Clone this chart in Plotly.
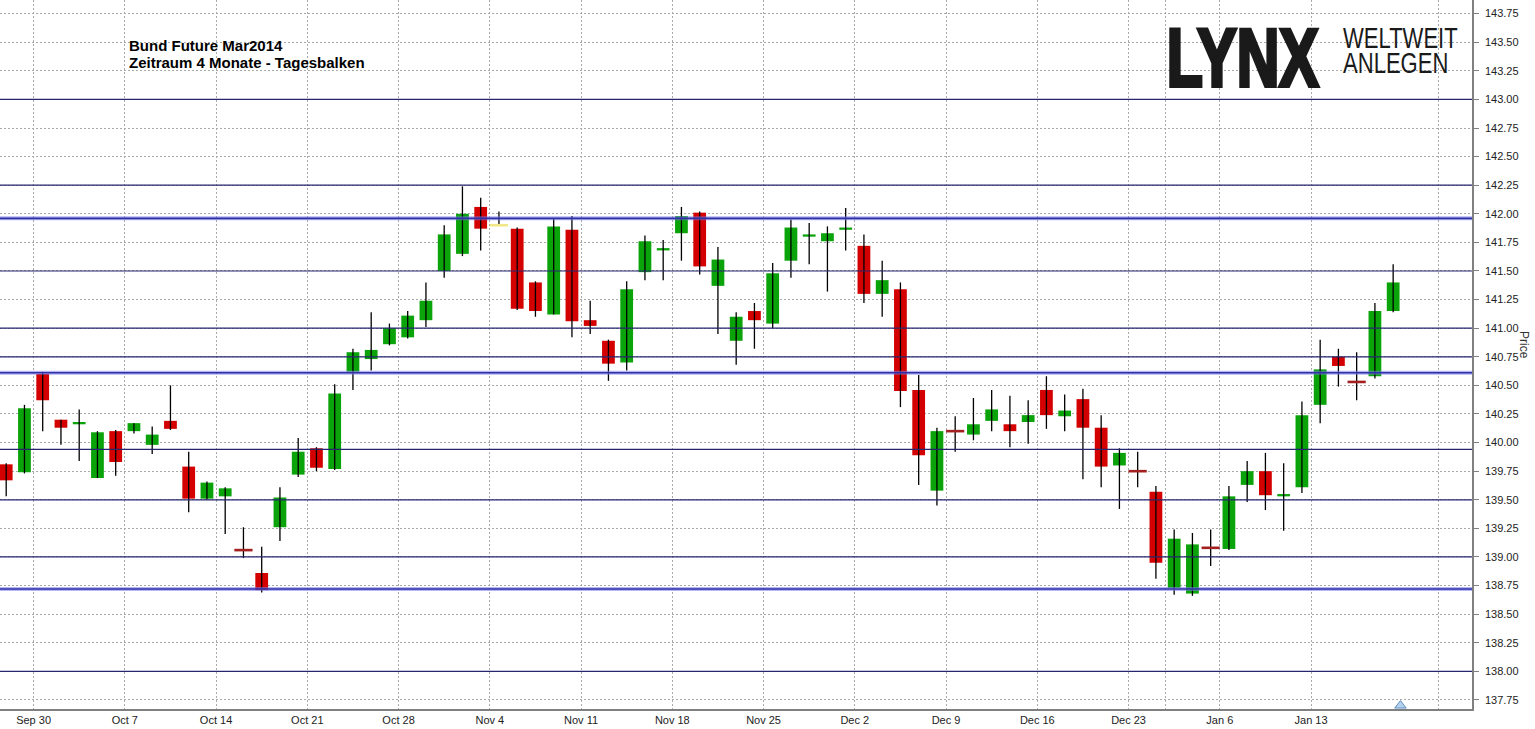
import plotly.graph_objects as go
import datetime as dt

# ---------------- data ----------------
dates = [
    "2013-09-26", "2013-09-27", "2013-09-30",
    "2013-10-01", "2013-10-02", "2013-10-03", "2013-10-04",
    "2013-10-07", "2013-10-08", "2013-10-09", "2013-10-10", "2013-10-11",
    "2013-10-14", "2013-10-15", "2013-10-16", "2013-10-17", "2013-10-18",
    "2013-10-21", "2013-10-22", "2013-10-23", "2013-10-24", "2013-10-25",
    "2013-10-28", "2013-10-29", "2013-10-30", "2013-10-31", "2013-11-01",
    "2013-11-04", "2013-11-05", "2013-11-06", "2013-11-07", "2013-11-08",
    "2013-11-11", "2013-11-12", "2013-11-13", "2013-11-14", "2013-11-15",
    "2013-11-18", "2013-11-19", "2013-11-20", "2013-11-21", "2013-11-22",
    "2013-11-25", "2013-11-26", "2013-11-27", "2013-11-28", "2013-11-29",
    "2013-12-02", "2013-12-03", "2013-12-04", "2013-12-05", "2013-12-06",
    "2013-12-09", "2013-12-10", "2013-12-11", "2013-12-12", "2013-12-13",
    "2013-12-16", "2013-12-17", "2013-12-18", "2013-12-19", "2013-12-20",
    "2013-12-23", "2013-12-27", "2013-12-30", "2014-01-02", "2014-01-03",
    "2014-01-06", "2014-01-07", "2014-01-08", "2014-01-09", "2014-01-10",
    "2014-01-13", "2014-01-14", "2014-01-15", "2014-01-16", "2014-01-17",
]

opens = [
    139.81, 139.74, 140.60, 140.20, 140.16, 139.69, 140.10, 140.10, 139.98, 140.19,
    139.79, 139.51, 139.53, 139.06, 138.86, 139.26, 139.72, 139.95, 139.77, 140.62,
    140.73, 140.86, 140.92, 141.07, 141.50, 141.65, 142.06, 141.90, 141.87, 141.40,
    141.12, 141.86, 141.07, 140.89, 140.70, 141.49, 141.68, 141.83, 142.01, 141.37,
    140.89, 141.15, 141.04, 141.59, 141.80, 141.76, 141.86, 141.72, 141.30, 141.34,
    140.46, 139.58, 140.10, 140.07, 140.19, 140.16, 140.18, 140.46, 140.23, 140.38,
    140.13, 139.80, 139.75, 139.57, 138.73, 138.68, 139.08, 139.07, 139.63, 139.75,
    139.53, 139.61, 140.33, 140.75, 140.53, 140.58, 141.15,
]
highs = [
    139.82, 140.33, 140.62, 140.20, 140.29, 140.10, 140.11, 140.17, 140.14, 140.50,
    139.92, 139.66, 139.61, 139.26, 139.09, 139.61, 140.04, 139.96, 140.51, 140.82,
    141.14, 141.04, 141.15, 141.40, 141.90, 142.24, 142.14, 142.02, 141.88, 141.41,
    141.96, 141.98, 141.24, 140.90, 141.41, 141.81, 141.77, 142.06, 142.02, 141.71,
    141.14, 141.22, 141.57, 141.95, 141.92, 141.89, 142.05, 141.82, 141.59, 141.40,
    140.59, 140.13, 140.23, 140.39, 140.46, 140.41, 140.37, 140.58, 140.42, 140.47,
    140.24, 139.95, 139.92, 139.62, 139.24, 139.21, 139.24, 139.62, 139.84, 139.91,
    139.82, 140.36, 140.90, 140.82, 140.79, 141.22, 141.56,
]
lows = [
    139.53, 139.73, 140.10, 139.98, 139.84, 139.69, 139.71, 140.08, 139.90, 140.11,
    139.39, 139.50, 139.20, 138.99, 138.69, 139.14, 139.70, 139.75, 139.76, 140.46,
    140.63, 140.85, 140.91, 141.01, 141.44, 141.63, 141.68, 141.90, 141.16, 141.10,
    141.12, 140.92, 140.95, 140.54, 140.63, 141.42, 141.42, 141.59, 141.47, 140.95,
    140.68, 140.82, 141.00, 141.44, 141.56, 141.32, 141.68, 141.22, 141.10, 140.31,
    139.63, 139.45, 139.92, 140.02, 140.10, 139.96, 139.99, 140.12, 140.10, 139.68,
    139.61, 139.42, 139.61, 138.81, 138.67, 138.66, 138.92, 139.06, 139.48, 139.41,
    139.23, 139.56, 140.17, 140.49, 140.37, 140.56, 141.14,
]
closes = [
    139.67, 140.30, 140.37, 140.13, 140.18, 140.09, 139.83, 140.17, 140.07, 140.12,
    139.51, 139.65, 139.60, 139.06, 138.71, 139.52, 139.92, 139.78, 140.43, 140.79,
    140.81, 141.00, 141.11, 141.24, 141.82, 142.00, 141.87, 141.90, 141.17, 141.15,
    141.89, 141.06, 141.02, 140.69, 141.34, 141.76, 141.70, 141.98, 141.54, 141.60,
    141.10, 141.07, 141.48, 141.88, 141.82, 141.83, 141.88, 141.30, 141.42, 140.45,
    139.89, 140.10, 140.10, 140.16, 140.29, 140.10, 140.24, 140.24, 140.28, 140.13,
    139.79, 139.91, 139.75, 138.95, 139.16, 139.11, 139.08, 139.53, 139.75, 139.54,
    139.55, 140.24, 140.64, 140.67, 140.53, 141.15, 141.40,
]

# horizontal support / resistance levels
levels = [143.00, 142.25, 141.50, 141.00, 140.75, 139.94, 139.50, 139.00, 138.00]
strong_levels = [141.96, 140.61, 138.72]

title_lines = ["Bund Future Mar2014", "Zeitraum 4 Monate - Tagesbalken"]
logo_word = "LYNX"
logo_claim = ["WELTWEIT", "ANLEGEN"]
axis_title = "Price"
next_monday = "2014-01-20"
hidden_tick_labels = ["2013-12-30", "2014-01-20"]

# ---------------- styles ----------------
GREEN = "#0aa30a"
RED = "#d40000"
DOJI_RED = "#a32020"
DOJI_YELLOW = "#f2e88a"
special_doji = {27: DOJI_YELLOW}
GRID = "#a9a9a9"
AXIS = "#808080"
THIN_LINE = "#26266e"
STRONG_CORE = "#3030a8"
STRONG_HALO = "rgba(120,120,230,0.55)"

W, H = 1535, 729
ML, MR, MT, MB = 0, 63, 0, 20
PW, PH = W - ML - MR, H - MT - MB
Y_RANGE = [137.671, 143.869]
X_RANGE = [-0.34, 80.32]

# ---------------- derived ----------------
xs = list(range(len(dates)))
parsed = [dt.date.fromisoformat(d) for d in dates]

bar_x, bar_base, bar_h, bar_c = [], [], [], []
doji_x, doji_y, doji_c = [], [], []
for i, (o, c) in enumerate(zip(opens, closes)):
    if c == o:
        doji_x.append(i)
        doji_y.append(o)
        doji_c.append(special_doji.get(i, DOJI_RED))
    else:
        bar_x.append(i)
        bar_base.append(min(o, c))
        bar_h.append(abs(c - o))
        bar_c.append(GREEN if c > o else RED)

wick_x, wick_y = [], []
for i, (hi, lo) in enumerate(zip(highs, lows)):
    wick_x += [i, i, None]
    wick_y += [lo, hi, None]

tickvals, ticktext = [], []
for i, d in enumerate(parsed):
    if d.weekday() == 0:
        tickvals.append(i - 0.5)
        ticktext.append("" if dates[i] in hidden_tick_labels else d.strftime("%b ") + str(d.day))
nm = dt.date.fromisoformat(next_monday)
tickvals.append(xs[-1] + (nm - parsed[-1]).days - 0.5)
ticktext.append("" if next_monday in hidden_tick_labels else nm.strftime("%b ") + str(nm.day))

fig = go.Figure()
fig.add_trace(go.Scatter(x=wick_x, y=wick_y, mode="lines",
                         line=dict(color="#000000", width=1.3),
                         hoverinfo="skip", showlegend=False))
fig.add_trace(go.Bar(x=bar_x, y=bar_h, base=bar_base, width=0.7,
                     marker=dict(color=bar_c, line=dict(width=0)),
                     showlegend=False))
fig.add_trace(go.Scatter(x=doji_x, y=doji_y, mode="markers",
                         marker=dict(symbol="line-ew", size=13,
                                     line=dict(width=2.6, color=doji_c)),
                         showlegend=False))
# "today" marker at the bottom
fig.add_trace(go.Scatter(x=[xs[-1] + 0.4], y=[Y_RANGE[0] + 0.03], mode="markers",
                         marker=dict(symbol="triangle-up", size=10, color="#b4d0ec",
                                     line=dict(width=1, color="#5f8fc0")),
                         cliponaxis=False, showlegend=False))

shapes = []
for lv in levels:
    shapes.append(dict(type="line", xref="paper", x0=0, x1=1, yref="y", y0=lv, y1=lv,
                       line=dict(color=THIN_LINE, width=1.2), layer="above"))
for lv in strong_levels:
    shapes.append(dict(type="line", xref="paper", x0=0, x1=1, yref="y", y0=lv, y1=lv,
                       line=dict(color=STRONG_HALO, width=4), layer="above"))
    shapes.append(dict(type="line", xref="paper", x0=0, x1=1, yref="y", y0=lv, y1=lv,
                       line=dict(color=STRONG_CORE, width=1.6), layer="above"))

def px_x(p):
    return (p - ML) / PW

def px_y(p):
    return 1 - (p - MT) / PH

LOGO_FONT = "Liberation Sans, Arial"
annotations = [
    dict(text="<b>" + title_lines[0] + "</b>", x=px_x(127), y=px_y(45),
         xref="paper", yref="paper", xanchor="left", yanchor="middle", showarrow=False,
         font=dict(family="Liberation Sans, Arial", size=15, color="#000000")),
    dict(text="<b>" + title_lines[1] + "</b>", x=px_x(127), y=px_y(63),
         xref="paper", yref="paper", xanchor="left", yanchor="middle", showarrow=False,
         font=dict(family="Liberation Sans, Arial", size=15, color="#000000")),
    dict(text="<b>" + logo_word + "</b>", x=px_x(1242), y=px_y(58),
         xref="paper", yref="paper", xanchor="center", yanchor="middle", showarrow=False,
         font=dict(family=LOGO_FONT, size=82, color="#1a1a1a")),
    dict(text=logo_claim[0], x=px_x(1341), y=px_y(37.5),
         xref="paper", yref="paper", xanchor="left", yanchor="middle", showarrow=False,
         font=dict(family=LOGO_FONT, size=21, color="#1a1a1a")),
    dict(text=logo_claim[1], x=px_x(1341), y=px_y(62.5),
         xref="paper", yref="paper", xanchor="left", yanchor="middle", showarrow=False,
         font=dict(family=LOGO_FONT, size=21, color="#1a1a1a")),
    dict(text=axis_title, x=px_x(1524), y=px_y(345), textangle=90,
         xref="paper", yref="paper", xanchor="center", yanchor="middle", showarrow=False,
         font=dict(family="Liberation Sans, Arial", size=12, color="#333333")),
]

fig.update_layout(
    width=W, height=H,
    margin=dict(l=ML, r=MR, t=MT, b=MB, pad=0),
    paper_bgcolor="#ffffff", plot_bgcolor="#ffffff",
    showlegend=False, barmode="overlay",
    shapes=shapes, annotations=annotations,
    xaxis=dict(range=X_RANGE, tickmode="array", tickvals=tickvals, ticktext=ticktext,
               showgrid=True, gridcolor=GRID, griddash="2px,2px", gridwidth=1,
               zeroline=False, showline=True, linecolor=AXIS, linewidth=1.5,
               ticks="", tickfont=dict(family="Liberation Sans Narrow, Liberation Sans, Arial",
                                       size=11, color="#222222")),
    yaxis=dict(range=Y_RANGE, side="right", tick0=137.75, dtick=0.25, tickformat=".2f",
               showgrid=True, gridcolor=GRID, griddash="2px,2px", gridwidth=1,
               zeroline=False, showline=True, linecolor=AXIS, linewidth=1.5,
               ticks="outside", ticklen=5, tickcolor=AXIS, ticklabelstandoff=4,
               tickfont=dict(family="Liberation Sans, Arial", size=11, color="#222222")),
)

# condense the logo lettering (the original uses a condensed typeface)
post_js = """
document.body.style.margin = '0';
function condenseLogo() {
  var scale = {'LYNX': [0.72, 1.0, 'center', 4],
               'WELTWEIT': [1.05, 1.44, 'left center', 0],
               'ANLEGEN': [1.05, 1.44, 'left center', 0]};
  document.querySelectorAll('text.annotation-text').forEach(function (t) {
    var s = scale[t.textContent];
    if (s) {
      t.style.transformBox = 'fill-box';
      t.style.transformOrigin = s[2];
      t.style.transform = 'scale(' + s[0] + ',' + s[1] + ')';
      if (s[3] > 0) {
        t.style.stroke = '#1a1a1a';
        t.style.strokeWidth = s[3] + 'px';
        t.style.strokeLinejoin = 'miter';
      }
    }
  });
}
condenseLogo();
setTimeout(condenseLogo, 50);
setTimeout(condenseLogo, 300);
"""

fig.write_html("out.html", config={"displayModeBar": False}, post_script=post_js)
